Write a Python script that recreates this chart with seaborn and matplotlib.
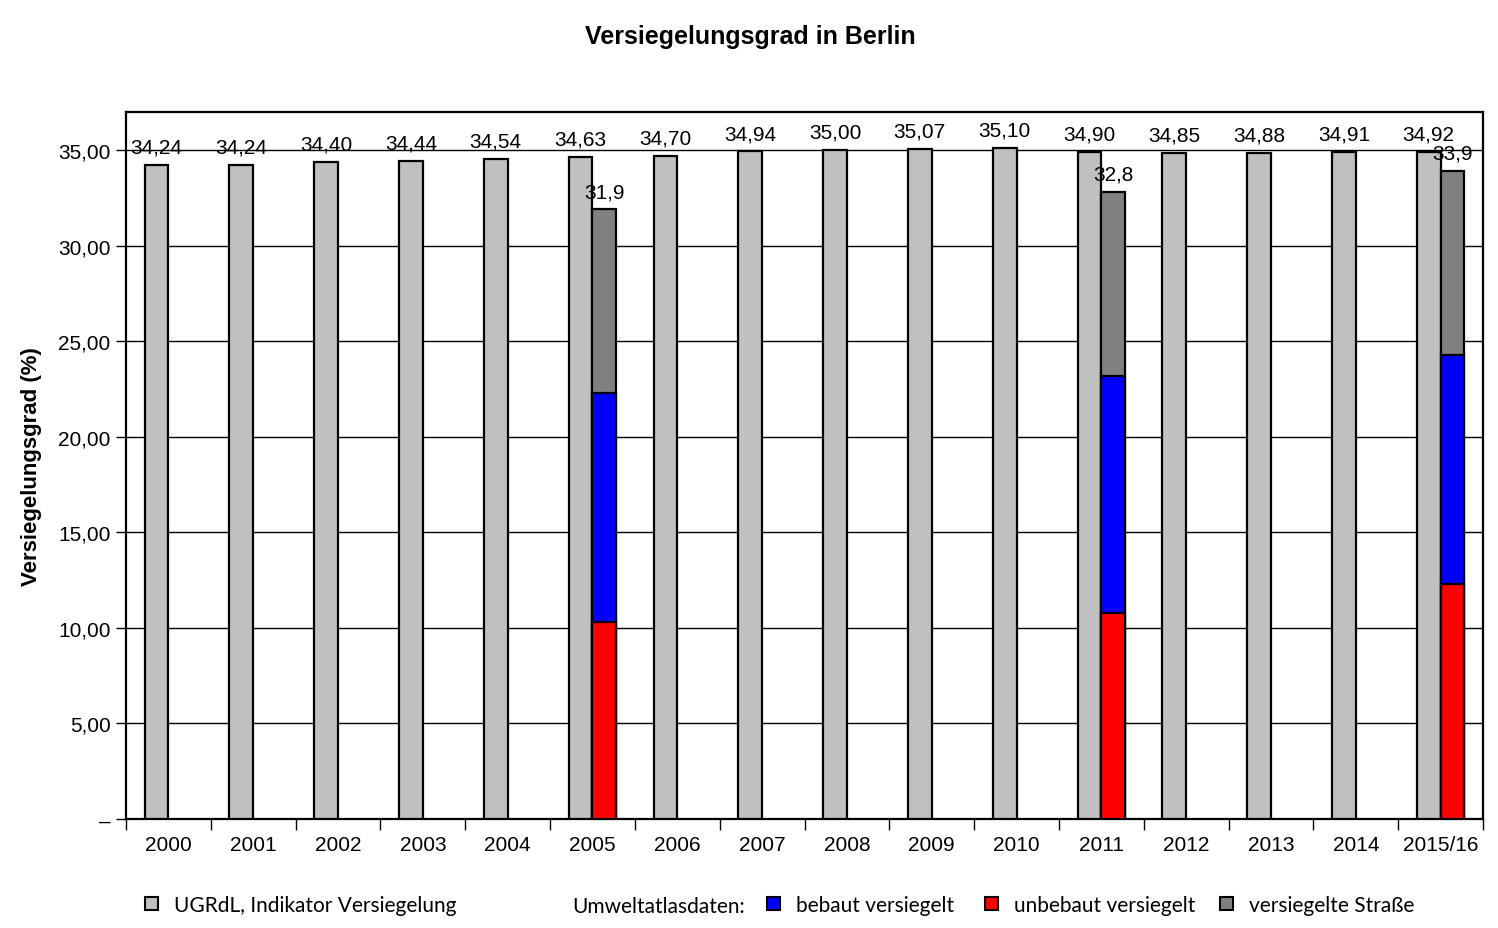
import pandas as pd
import numpy as np
import seaborn as sns
import matplotlib.pyplot as plt
from matplotlib.patches import Patch
from matplotlib.ticker import FixedLocator

# data
years = ["2000", "2001", "2002", "2003", "2004", "2005", "2006", "2007",
         "2008", "2009", "2010", "2011", "2012", "2013", "2014", "2015/16"]
ugrdl = [34.24, 34.24, 34.40, 34.44, 34.54, 34.63, 34.70, 34.94,
         35.00, 35.07, 35.10, 34.90, 34.85, 34.88, 34.91, 34.92]

atlas_years = ["2005", "2011", "2015/16"]
unbebaut = [10.3, 10.8, 12.3]
bebaut = [12.0, 12.4, 12.0]
strasse = [9.6, 9.6, 9.6]

sns.set_style("white")
plt.rcParams["font.family"] = ["Liberation Sans", "DejaVu Sans"]
plt.rcParams["text.color"] = "black"
plt.rcParams["axes.labelcolor"] = "black"
plt.rcParams["xtick.color"] = "black"
plt.rcParams["ytick.color"] = "black"

df_ugr = pd.DataFrame({"Jahr": years, "Quelle": "UGRdL", "Wert": ugrdl})
df_atlas = pd.DataFrame({"Jahr": atlas_years, "unbebaut": unbebaut,
                         "bebaut": bebaut, "strasse": strasse})
df_atlas["Quelle"] = "Atlas"
df_atlas["gesamt"] = df_atlas["unbebaut"] + df_atlas["bebaut"] + df_atlas["strasse"]
df_atlas["bis_bebaut"] = df_atlas["unbebaut"] + df_atlas["bebaut"]

layer1 = pd.concat([df_ugr,
                    df_atlas[["Jahr", "Quelle"]].assign(Wert=df_atlas["gesamt"])],
                   ignore_index=True)

fig = plt.figure(figsize=(14.98, 9.29), dpi=100)
ax = fig.add_axes([126 / 1498, 109 / 929, (1483 - 126) / 1498, (820 - 113) / 929])

hue_order = ["UGRdL", "Atlas"]
common = dict(x="Jahr", hue="Quelle", order=years, hue_order=hue_order,
              width=0.56, gap=0, dodge=True, edgecolor="black", linewidth=1.6,
              saturation=1, errorbar=None, legend=False, ax=ax, zorder=3)

sns.barplot(data=layer1, y="Wert",
            palette={"UGRdL": "#c0c0c0", "Atlas": "#808080"}, **common)
cont_ugr, cont_total = ax.containers[0], ax.containers[1]
sns.barplot(data=df_atlas, y="bis_bebaut",
            palette={"UGRdL": "#c0c0c0", "Atlas": "#0000ff"}, **common)
sns.barplot(data=df_atlas, y="unbebaut",
            palette={"UGRdL": "#c0c0c0", "Atlas": "#ff0000"}, **common)

ax.bar_label(cont_ugr, labels=[f"{v:.2f}".replace(".", ",") for v in ugrdl],
             padding=6, fontsize=15, color="black")
ax.bar_label(cont_total,
             labels=[f"{v:.1f}".replace(".", ",") for v in df_atlas["gesamt"]],
             padding=6, fontsize=15, color="black")

ax.set_xlim(-0.5, len(years) - 0.5)
ax.set_ylim(0, 37)
yt = np.arange(0, 36, 5)
ax.set_yticks(yt)
ax.set_yticklabels(["–"] + [f"{v:.2f}".replace(".", ",") for v in yt[1:]], fontsize=15)
ax.yaxis.grid(True, color="black", linewidth=1)
ax.set_axisbelow(True)
ax.tick_params(axis="y", left=True, length=7, width=1, color="black", pad=4)
ax.tick_params(axis="x", bottom=False, labelsize=15, pad=8)
ax.xaxis.set_minor_locator(FixedLocator(np.arange(-0.5, len(years), 1)))
ax.tick_params(axis="x", which="minor", bottom=True, length=8, width=1, color="black")
for s in ax.spines.values():
    s.set_color("black")
    s.set_linewidth(1.6)

ax.set_xlabel("")
ax.set_ylabel("Versiegelungsgrad (%)", fontsize=16, fontweight="bold", labelpad=12)
fig.text(750 / 1498, 1 - 37 / 929, "Versiegelungsgrad in Berlin",
         ha="center", va="center", fontsize=18, fontweight="bold")

# legend row at the bottom
leg_font = ["Lato", "DejaVu Sans"]
entries = [("UGRdL, Indikator Versiegelung", "#c0c0c0", 145),
           ("bebaut versiegelt", "#0000ff", 767),
           ("unbebaut versiegelt", "#ff0000", 985),
           ("versiegelte Straße", "#808080", 1220)]
for label, color, xpx in entries:
    fig.legend(handles=[Patch(facecolor=color, edgecolor="black", linewidth=1.5)],
               labels=[label], loc="center left",
               bbox_to_anchor=(xpx / 1498, 1 - 906 / 929), frameon=False,
               handlelength=0.6, handleheight=0.6, handletextpad=0.8,
               borderpad=0, borderaxespad=0,
               prop={"family": leg_font, "size": 15})
fig.text(572 / 1498, 1 - 907 / 929, "Umweltatlasdaten:", ha="left", va="center",
         fontsize=15, family=leg_font)

fig.savefig("out.png", dpi=100)
